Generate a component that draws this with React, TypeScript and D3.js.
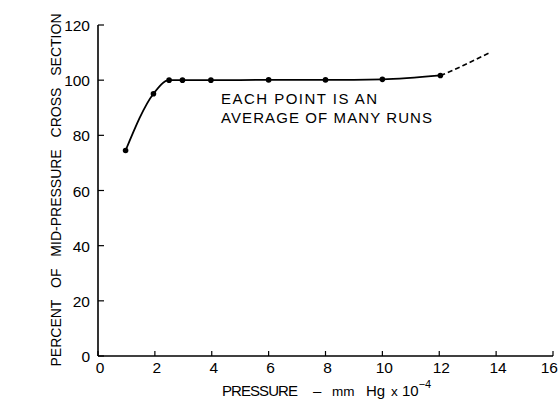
import React from 'react'
import * as d3 from 'd3'

// measured points (pressure in mm Hg x 1e-4, percent of mid-pressure cross section)
const pressure = [0.97, 1.95, 2.5, 2.97, 3.97, 6, 8, 10, 12.04]
const percent = [74.5, 95.1, 100, 100, 100, 100.1, 100.1, 100.3, 101.7]

// dashed extrapolation beyond the last point
const extPressure = [12.04, 12.4, 13, 13.78]
const extPercent = [101.7, 103.2, 106.1, 110]

const xTicks = [0, 2, 4, 6, 8, 10, 12, 14, 16]
const yTicks = [0, 20, 40, 60, 80, 100, 120]

const W = 560
const H = 400
const FONT = "'Liberation Sans', 'DejaVu Sans', sans-serif"

export default function App() {
  const x = d3.scaleLinear().domain([0, 16]).range([98, 553])
  const y = d3.scaleLinear().domain([0, 120]).range([356, 25])

  const pts: [number, number][] = pressure.map((p, i) => [p, percent[i]])
  const ext: [number, number][] = extPressure.map((p, i) => [p, extPercent[i]])

  const line = d3
    .line<[number, number]>()
    .x((d) => x(d[0]))
    .y((d) => y(d[1]))
    .curve(d3.curveMonotoneX)

  return (
    <svg width={W} height={H} style={{ position: 'absolute', left: 0, top: 0, background: '#fff' }}>
      {/* axes */}
      <line x1={x(0)} x2={x(0)} y1={y(0)} y2={y(120)} stroke="#000" strokeWidth={1.6} />
      <line x1={x(0)} x2={x(16)} y1={y(0)} y2={y(0)} stroke="#000" strokeWidth={1.4} />

      {yTicks.map((t) => (
        <g key={'y' + t}>
          <line x1={x(0)} x2={x(0) + 6} y1={y(t)} y2={y(t)} stroke="#000" strokeWidth={1.2} />
          <text x={x(0) - 8} y={y(t) + 6} textAnchor="end" fontFamily={FONT} fontSize={15.5}>
            {t}
          </text>
        </g>
      ))}

      {xTicks.map((t) => {
        const last = x(t) > W - 12
        return (
          <g key={'x' + t}>
            <line x1={x(t)} x2={x(t)} y1={y(0)} y2={y(0) - 5} stroke="#000" strokeWidth={1.2} />
            <text
              x={last ? W - 2 : x(t) + 2}
              y={373}
              textAnchor={last ? 'end' : 'middle'}
              fontFamily={FONT}
              fontSize={15.5}
            >
              {t}
            </text>
          </g>
        )
      })}

      {/* curve */}
      <path d={line(pts) ?? ''} fill="none" stroke="#000" strokeWidth={1.8} />
      <path d={line(ext) ?? ''} fill="none" stroke="#000" strokeWidth={1.6} strokeDasharray="5 3" />
      {pts.map((d, i) => (
        <circle key={i} cx={x(d[0])} cy={y(d[1])} r={2.8} fill="#000" />
      ))}

      {/* annotation */}
      <text x={221} y={104} fontFamily={FONT} fontSize={15} textLength={156} lengthAdjust="spacing">
        EACH POINT IS AN
      </text>
      <text x={221} y={123} fontFamily={FONT} fontSize={15} textLength={211} lengthAdjust="spacing">
        AVERAGE OF MANY RUNS
      </text>

      {/* y label */}
      <text
        transform={`translate(61, 190) rotate(-90)`}
        textAnchor="middle"
        fontFamily={FONT}
        fontSize={14}
        wordSpacing={8}
      >
        PERCENT OF MID-PRESSURE CROSS SECTION
      </text>

      {/* x label */}
      <text y={396} fontFamily={FONT} fontSize={15}>
        <tspan x={222} textLength={76} lengthAdjust="spacing">PRESSURE</tspan>
        <tspan x={313}>–</tspan>
        <tspan x={332} fontSize={13.5}>mm</tspan>
        <tspan x={366}>Hg</tspan>
        <tspan x={391} fontSize={13.5}>x</tspan>
        <tspan x={402}>10</tspan>
        <tspan dy={-8} fontSize={11}>−4</tspan>
      </text>
    </svg>
  )
}
